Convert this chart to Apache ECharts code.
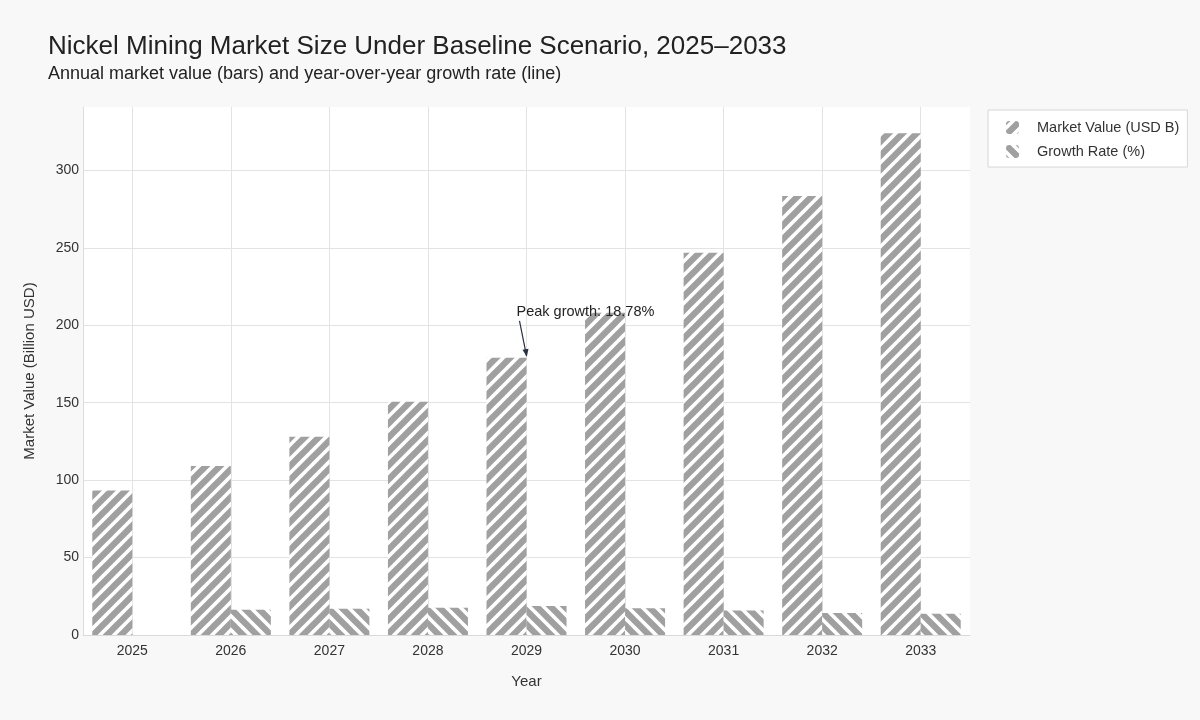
<!DOCTYPE html>
<html>
<head>
<meta charset="utf-8">
<title>Nickel Mining Market Size</title>
<script src="https://cdn.jsdelivr.net/npm/echarts@6/dist/echarts.min.js"></script>
<style>
  html, body { margin: 0; padding: 0; background: #f8f8f8; }
  #chart { width: 1200px; height: 720px; }
</style>
</head>
<body>
<div id="chart"></div>
<script>
  var years = ['2025', '2026', '2027', '2028', '2029', '2030', '2031', '2032', '2033'];
  var marketValue = [93.4, 109.1, 128.0, 150.7, 179.0, 208.2, 246.8, 283.5, 324.0];
  var growthRate = ['-', 16.3, 16.9, 17.6, 18.78, 17.3, 15.8, 14.2, 13.7];
  var peakYear = '2029';
  var peakText = 'Peak growth: 18.78%';

  var font = '"Liberation Sans", Arial, sans-serif';

  // striped fill, '/' or '\'
  function hatch(dir) {
    var s = 14;
    var c = document.createElement('canvas');
    c.width = s; c.height = s;
    var ctx = c.getContext('2d');
    ctx.fillStyle = '#ffffff';
    ctx.fillRect(0, 0, s, s);
    ctx.strokeStyle = '#a0a0a0';
    ctx.lineWidth = 6.2;
    ctx.beginPath();
    for (var k = -2; k <= 2; k++) {
      if (dir === '/') {
        ctx.moveTo(k * s - s, 2 * s); ctx.lineTo(k * s + 2 * s, -s);
      } else {
        ctx.moveTo(k * s - s, -s); ctx.lineTo(k * s + 2 * s, 2 * s);
      }
    }
    ctx.stroke();
    return { image: c, repeat: 'repeat' };
  }

  var myChart = echarts.init(document.getElementById('chart'));

  myChart.setOption({
    backgroundColor: '#f8f8f8',
    animation: false,
    textStyle: { fontFamily: font },
    title: {
      text: 'Nickel Mining Market Size Under Baseline Scenario, 2025\u20132033',
      subtext: 'Annual market value (bars) and year-over-year growth rate (line)',
      left: 43,
      top: 29,
      itemGap: 5,
      textStyle: { fontSize: 26, fontWeight: 'normal', color: '#222', fontFamily: font },
      subtextStyle: { fontSize: 18, color: '#222', fontFamily: font }
    },
    legend: {
      orient: 'vertical',
      left: 988,
      top: 110,
      padding: [10, 8, 8, 18],
      itemGap: 9,
      itemWidth: 13,
      itemHeight: 13,
      backgroundColor: '#ffffff',
      borderColor: '#d6d6d6',
      borderWidth: 1,
      textStyle: { fontSize: 14.5, color: '#333', fontFamily: font, padding: [0, 0, 0, 13] },
      data: ['Market Value (USD B)', 'Growth Rate (%)']
    },
    grid: {
      left: 83,
      right: 230,
      top: 107,
      bottom: 85,
      show: true,
      backgroundColor: '#ffffff',
      borderWidth: 0
    },
    xAxis: {
      type: 'category',
      data: years,
      name: 'Year',
      nameLocation: 'middle',
      nameGap: 39,
      nameTextStyle: { fontSize: 15, color: '#333' },
      axisLine: { lineStyle: { color: '#d9d9d9' } },
      axisTick: { show: false },
      axisLabel: { fontSize: 14, color: '#333', margin: 9 },
      splitLine: { show: true, alignWithLabel: true, lineStyle: { color: '#e3e3e3' } }
    },
    yAxis: {
      type: 'value',
      min: 0,
      max: 341,
      interval: 50,
      name: 'Market Value (Billion USD)',
      nameLocation: 'middle',
      nameGap: 46,
      nameTextStyle: { fontSize: 15, color: '#333' },
      axisLine: { show: true, lineStyle: { color: '#dcdcdc' } },
      axisTick: { show: false },
      axisLabel: { fontSize: 14, color: '#333', margin: 4, showMaxLabel: false },
      splitLine: { show: true, showMaxLine: false, lineStyle: { color: '#e3e3e3' } }
    },
    series: [
      {
        name: 'Market Value (USD B)',
        type: 'bar',
        data: marketValue,
        barWidth: 40,
        barGap: '0%',
        itemStyle: { color: hatch('/') }
      },
      {
        name: 'Growth Rate (%)',
        type: 'bar',
        data: growthRate,
        barWidth: 40,
        barGap: '0%',
        itemStyle: { color: hatch('\\') }
      }
    ]
  });

  // annotation pointing at peak year
  var idx = years.indexOf(peakYear);
  var pt = myChart.convertToPixel({ gridIndex: 0 }, [peakYear, marketValue[idx]]);
  myChart.setOption({
    graphic: [
      {
        type: 'line',
        shape: { x1: pt[0] - 7, y1: pt[1] - 37, x2: pt[0], y2: pt[1] - 2 },
        style: { stroke: '#2a3142', lineWidth: 1.2 },
        z: 100
      },
      {
        type: 'polygon',
        shape: {
          points: [
            [pt[0] + 0.3, pt[1] - 1],
            [pt[0] - 4, pt[1] - 8],
            [pt[0] + 2, pt[1] - 9]
          ]
        },
        style: { fill: '#2a3142' },
        z: 100
      },
      {
        type: 'text',
        x: pt[0] - 10,
        y: pt[1] - 46,
        style: {
          text: peakText,
          font: '14.5px ' + font,
          fill: '#222',
          verticalAlign: 'middle'
        },
        z: 100
      }
    ]
  });
</script>
</body>
</html>
